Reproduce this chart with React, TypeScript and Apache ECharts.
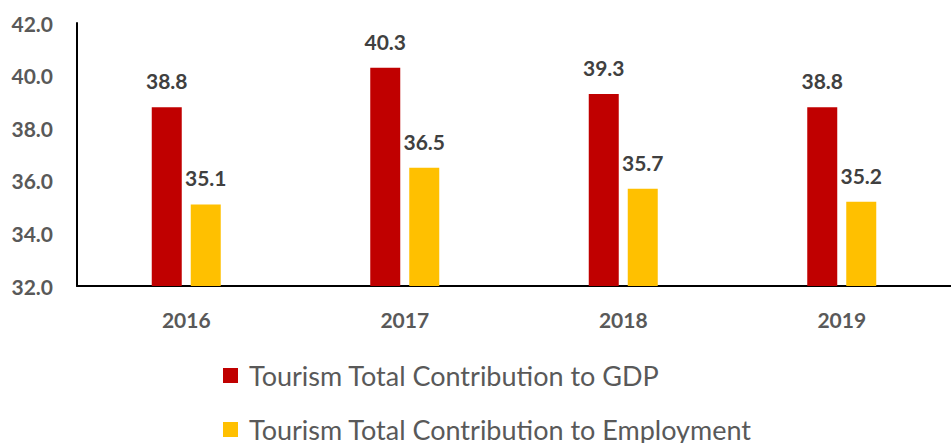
import React, { useEffect, useRef } from "react";
import * as echarts from "echarts";

const categories = ["2016", "2017", "2018", "2019"];
const gdpValues = [38.8, 40.3, 39.3, 38.8];
const employmentValues = [35.1, 36.5, 35.7, 35.2];
const seriesNames = [
  "Tourism Total Contribution to GDP",
  "Tourism Total Contribution to Employment",
];

const FONT = "Lato, 'Open Sans', sans-serif";

export default function App() {
  const ref = useRef<HTMLDivElement>(null);
  useEffect(() => {
    document.body.style.margin = "0";
    if (!ref.current) return;
    const chart = echarts.init(ref.current, undefined, { renderer: "svg" });
    const labelStyle = {
      show: true,
      position: "top" as const,
      distance: 16,
      fontFamily: FONT,
      fontWeight: "bold" as const,
      fontSize: 21,
      color: "#404040",
      formatter: (p: any) => Number(p.value).toFixed(1),
    };
    const legendCommon = {
      orient: "vertical" as const,
      left: 218,
      itemWidth: 15,
      itemHeight: 15,
      icon: "rect",
      itemGap: 10,
      textStyle: {
        fontFamily: FONT,
        fontSize: 27,
        lineHeight: 27,
        color: "#595959",
        padding: [0, 0, 0, 6],
      },
    };
    chart.setOption({
      animation: false,
      backgroundColor: "#ffffff",
      grid: { left: 77, right: -6, top: 23, bottom: 157, containLabel: false },
      legend: [
        { ...legendCommon, top: 357, data: [seriesNames[0]] },
        { ...legendCommon, top: 411, data: [seriesNames[1]] },
      ],
      xAxis: {
        type: "category",
        data: categories,
        axisLine: { lineStyle: { color: "#000000", width: 2 } },
        axisTick: { show: false },
        axisLabel: {
          margin: 23,
          fontFamily: FONT,
          fontWeight: "bold",
          fontSize: 21,
          color: "#595959",
        },
      },
      yAxis: {
        type: "value",
        min: 32,
        max: 42,
        interval: 2,
        axisLine: { show: true, lineStyle: { color: "#000000", width: 2 } },
        axisTick: { show: false },
        splitLine: { show: false },
        axisLabel: {
          margin: 24,
          fontFamily: FONT,
          fontWeight: "bold",
          fontSize: 21,
          color: "#595959",
          formatter: (v: number) => v.toFixed(1),
        },
      },
      series: [
        {
          name: seriesNames[0],
          type: "bar",
          data: gdpValues,
          barWidth: 30,
          barGap: "30%",
          itemStyle: { color: "#C00000" },
          label: labelStyle,
        },
        {
          name: seriesNames[1],
          type: "bar",
          data: employmentValues,
          barWidth: 30,
          itemStyle: { color: "#FFC000" },
          label: labelStyle,
        },
      ],
    });
    return () => chart.dispose();
  }, []);
  return <div ref={ref} style={{ width: 951, height: 443 }} />;
}
